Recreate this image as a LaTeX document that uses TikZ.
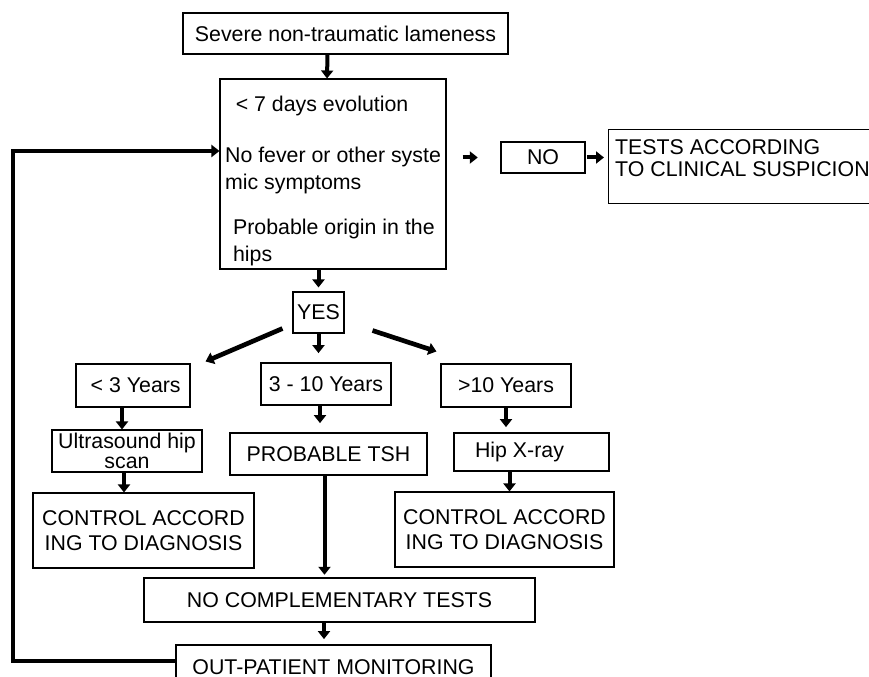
\documentclass[tikz,border=0pt]{standalone}
\usepackage{fontspec}
\setmainfont{Liberation Sans}
\usetikzlibrary{arrows.meta}

\begin{document}
\begin{tikzpicture}[x=0.75pt, y=-0.75pt,
        box/.style={draw, line width=0.8pt, inner sep=2pt, align=center, font=\fontsize{16}{19}\selectfont},
        arr/.style={-{Triangle[width=9pt, length=6pt]}, line width=3pt}]
        \path[use as bounding box, clip] (0,0) rectangle (869,677);

        \node[box, minimum width=243.75pt, minimum height=30.75pt] (lame) at (345.5,33.5) {Severe non-traumatic lameness};
        \node[box, minimum width=169.5pt, minimum height=142.5pt, align=left,
              font=\fontsize{16}{20}\selectfont] (crit) at (333,174)
            {\rule{0pt}{22pt}\hspace*{8pt}< 7 days evolution\\[18pt]
             No fever or other syste\\mic symptoms\\[14pt]
             \hspace*{6pt}Probable origin in the\\\hspace*{6pt}hips};
        \node[box, minimum width=63pt, minimum height=23.25pt] (no) at (543,157.5) {NO};
        \node[box, anchor=north west, inner sep=0pt, inner xsep=5pt] (tests) at (608,129)
            {\parbox[c][55.5pt][t]{230pt}{\fontsize{16}{16}\selectfont\rule{0pt}{19pt}TESTS ACCORDING\\TO CLINICAL SUSPICION}};
        \node[box, minimum width=38.25pt, minimum height=30.75pt] (yes) at (318.5,312.5) {YES};

        \node[box, minimum width=85.5pt, minimum height=32.25pt] (lt3) at (133,385.5) {\hspace*{4pt}< 3 Years};
        \node[box, minimum width=97.5pt, minimum height=31.5pt] (mid) at (326,384) {3 - 10 Years};
        \node[box, minimum width=97.5pt, minimum height=32.25pt] (gt10) at (506,385.5) {>10 Years};

        \node[box, minimum width=112.5pt, minimum height=31.5pt, font=\fontsize{16}{15}\selectfont] (us) at (127,451) {Ultrasound hip\\scan};
        \node[box, minimum width=147.75pt, minimum height=31.5pt] (tsh) at (328.5,454) {PROBABLE TSH};
        \node[box, minimum width=116.25pt, minimum height=28.5pt] (xray) at (531.5,452) {Hip X-ray\hspace*{18pt}};

        \node[box, minimum width=165.75pt, minimum height=56.25pt] (ctl1) at (143.5,530.5) {CONTROL ACCORD\\ING TO DIAGNOSIS};
        \node[box, minimum width=164.25pt, minimum height=56.25pt] (ctl2) at (504.5,529.5) {CONTROL ACCORD\\ING TO DIAGNOSIS};

        \node[box, minimum width=293.25pt, minimum height=33pt] (nct) at (339.5,600) {NO COMPLEMENTARY TESTS};
        \node[box, minimum width=236.25pt, minimum height=33pt] (opm) at (333.5,667) {OUT-PATIENT MONITORING};

        \draw[arr] ([shift={(-18,0)}]lame.south) -- ([shift={(-6,0)}]crit.north);
        \draw[arr, shorten <=12pt, shorten >=17pt] (crit.east |- no.west) -- (no.west);
        \draw[arr, shorten <=1pt, shorten >=3pt] (no.east) -- (no.east -| tests.west);
        \draw[arr, shorten >=3pt] (crit.south -| yes.north) -- (yes.north);

        \draw[arr, line width=3.5pt] ([shift={(-10,-5)}]yes.south west) -- ([shift={(15,-2)}]lt3.north east);
        \draw[arr, shorten >=7pt] (yes.south) -- (yes.south |- mid.north);
        \draw[arr, line width=3.5pt] ([shift={(28,-3)}]yes.south east) -- ([shift={(-4,-12)}]gt10.north west);

        \draw[arr] ([shift={(-11,0)}]lt3.south) -- ([shift={(-11,0)}]lt3.south |- us.north);
        \draw[arr, shorten >=7pt] ([shift={(-6,0)}]mid.south) -- ([shift={(-6,0)}]mid.south |- tsh.north);
        \draw[arr, shorten >=4pt] (gt10.south) -- (gt10.south |- xray.north);

        \draw[arr] ([shift={(-3,0)}]us.south) -- ([shift={(-3,0)}]us.south |- ctl1.north);
        \draw[arr] ([shift={(-22,0)}]xray.south) -- ([shift={(-22,0)}]xray.south |- ctl2.north);
        \draw[arr, shorten >=2pt] ([shift={(-4,0)}]tsh.south) -- ([shift={(-4,0)}]tsh.south |- nct.north);
        \draw[arr, shorten >=4pt] ([shift={(-15.5,0)}]nct.south) -- ([shift={(-15.5,0)}]nct.south |- opm.north);

        % back to the criteria
        \coordinate (turn) at (13,661);
        \draw[arr] ([shift={(0,-6)}]opm.west) -- (turn) |- ([shift={(0,-23)}]crit.west);
    \end{tikzpicture}
\end{document}
